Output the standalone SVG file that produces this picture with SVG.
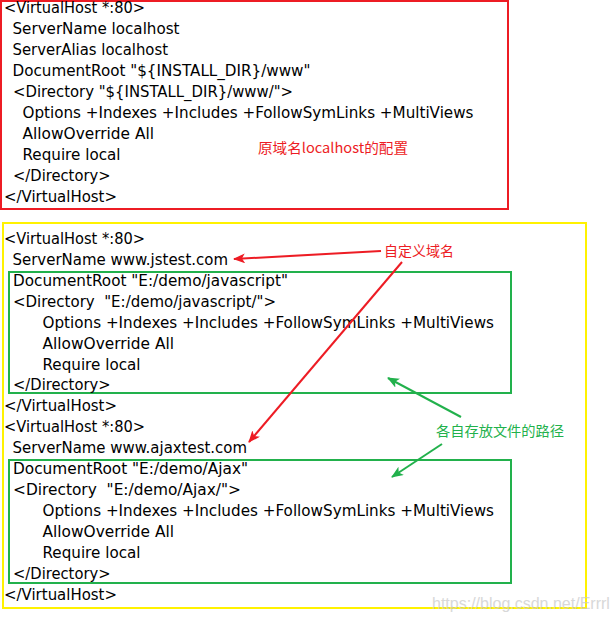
<svg xmlns="http://www.w3.org/2000/svg" width="614" height="622" viewBox="0 0 614 622">
<style>
.code{font-family:"DejaVu Sans","Liberation Sans",Arial,sans-serif;font-size:15px;fill:#000;white-space:pre}
.lbl{font-family:"Noto Sans CJK SC","Noto Sans",sans-serif;font-size:14px}
.red{fill:#ed1c24}
.grn{fill:#22b14c}
.box{fill:none;stroke-width:2}
.wm{font-family:"Liberation Sans",Arial,sans-serif;font-size:16px;fill:#c8c8c8;opacity:0.7}
</style>
<defs>
<marker id="ahR" markerUnits="userSpaceOnUse" markerWidth="12" markerHeight="10" refX="11" refY="5" orient="auto">
<path d="M0,0 L12,5 L0,10 L3,5 Z" fill="#ed1c24"/>
</marker>
<marker id="ahG" markerUnits="userSpaceOnUse" markerWidth="12" markerHeight="10" refX="11" refY="5" orient="auto">
<path d="M0,0 L12,5 L0,10 L3,5 Z" fill="#22b14c"/>
</marker>
</defs>
<rect width="614" height="622" fill="#fff"/>

<g id="localhost-block">
<rect class="box" x="1" y="1" width="507" height="208" stroke="#ed1c24"/>
<text class="code" x="4" y="13" textLength="141" lengthAdjust="spacingAndGlyphs">&lt;VirtualHost *:80&gt;</text>
<text class="code" x="12.5" y="34" textLength="167" lengthAdjust="spacingAndGlyphs">ServerName localhost</text>
<text class="code" x="12.5" y="55" textLength="155.5" lengthAdjust="spacingAndGlyphs">ServerAlias localhost</text>
<text class="code" x="12.5" y="76" textLength="298" lengthAdjust="spacingAndGlyphs">DocumentRoot "${INSTALL_DIR}/www"</text>
<text class="code" x="13" y="97" textLength="280" lengthAdjust="spacingAndGlyphs">&lt;Directory "${INSTALL_DIR}/www/"&gt;</text>
<text class="code" x="22.5" y="118" textLength="451" lengthAdjust="spacingAndGlyphs">Options +Indexes +Includes +FollowSymLinks +MultiViews</text>
<text class="code" x="22.5" y="139" textLength="131.5" lengthAdjust="spacingAndGlyphs">AllowOverride All</text>
<text class="code" x="22.5" y="160" textLength="98" lengthAdjust="spacingAndGlyphs">Require local</text>
<text class="code" x="13" y="181" textLength="97.5" lengthAdjust="spacingAndGlyphs">&lt;/Directory&gt;</text>
<text class="code" x="4" y="202" textLength="113" lengthAdjust="spacingAndGlyphs">&lt;/VirtualHost&gt;</text>
<text class="lbl red" x="258" y="153" textLength="150" lengthAdjust="spacingAndGlyphs">原域名localhost的配置</text>
</g>

<g id="custom-vhosts">
<rect class="box" x="3" y="223" width="583" height="385" stroke="#fff200"/>
<text class="code" x="4" y="244" textLength="141" lengthAdjust="spacingAndGlyphs">&lt;VirtualHost *:80&gt;</text>
<text class="code" x="12.5" y="265" textLength="215.5" lengthAdjust="spacingAndGlyphs">ServerName www.jstest.com</text>
<text class="code" x="4" y="411" textLength="113" lengthAdjust="spacingAndGlyphs">&lt;/VirtualHost&gt;</text>
<text class="code" x="4" y="432" textLength="141" lengthAdjust="spacingAndGlyphs">&lt;VirtualHost *:80&gt;</text>
<text class="code" x="12.5" y="453" textLength="234.5" lengthAdjust="spacingAndGlyphs">ServerName www.ajaxtest.com</text>
<text class="code" x="4" y="600" textLength="113" lengthAdjust="spacingAndGlyphs">&lt;/VirtualHost&gt;</text>
</g>

<g id="jstest-dir">
<rect class="box" x="9" y="272" width="502" height="121" stroke="#22b14c"/>
<text class="code" x="13" y="286" textLength="275" lengthAdjust="spacingAndGlyphs">DocumentRoot "E:/demo/javascript"</text>
<text class="code" x="13" y="307" textLength="263" lengthAdjust="spacingAndGlyphs">&lt;Directory  "E:/demo/javascript/"&gt;</text>
<text class="code" x="42.5" y="328" textLength="451.5" lengthAdjust="spacingAndGlyphs">Options +Indexes +Includes +FollowSymLinks +MultiViews</text>
<text class="code" x="42.5" y="349" textLength="131.5" lengthAdjust="spacingAndGlyphs">AllowOverride All</text>
<text class="code" x="42.5" y="370" textLength="98" lengthAdjust="spacingAndGlyphs">Require local</text>
<text class="code" x="13" y="390" textLength="97.5" lengthAdjust="spacingAndGlyphs">&lt;/Directory&gt;</text>
</g>

<g id="ajax-dir">
<rect class="box" x="9" y="460" width="502" height="123" stroke="#22b14c"/>
<text class="code" x="13" y="474" textLength="235" lengthAdjust="spacingAndGlyphs">DocumentRoot "E:/demo/Ajax"</text>
<text class="code" x="13" y="495" textLength="228" lengthAdjust="spacingAndGlyphs">&lt;Directory  "E:/demo/Ajax/"&gt;</text>
<text class="code" x="42.5" y="516" textLength="451.5" lengthAdjust="spacingAndGlyphs">Options +Indexes +Includes +FollowSymLinks +MultiViews</text>
<text class="code" x="42.5" y="537" textLength="131.5" lengthAdjust="spacingAndGlyphs">AllowOverride All</text>
<text class="code" x="42.5" y="558" textLength="98" lengthAdjust="spacingAndGlyphs">Require local</text>
<text class="code" x="13" y="579" textLength="97.5" lengthAdjust="spacingAndGlyphs">&lt;/Directory&gt;</text>
</g>

<g id="label-domain">
<text class="lbl red" x="384" y="256">自定义域名</text>
</g>
<g id="label-paths">
<text class="lbl grn" x="436" y="436" textLength="128" lengthAdjust="spacingAndGlyphs">各自存放文件的路径</text>
</g>

<g id="connectors" fill="none" stroke-width="2">
<line x1="381" y1="251" x2="234" y2="259" stroke="#ed1c24" marker-end="url(#ahR)"/>
<line x1="402" y1="262" x2="249" y2="442" stroke="#ed1c24" marker-end="url(#ahR)"/>
<line x1="461" y1="417" x2="388" y2="378" stroke="#22b14c" marker-end="url(#ahG)"/>
<line x1="442" y1="444" x2="392" y2="477" stroke="#22b14c" marker-end="url(#ahG)"/>
</g>

<text class="wm" x="432" y="609">https://blog.csdn.net/Errrl</text>
</svg>
